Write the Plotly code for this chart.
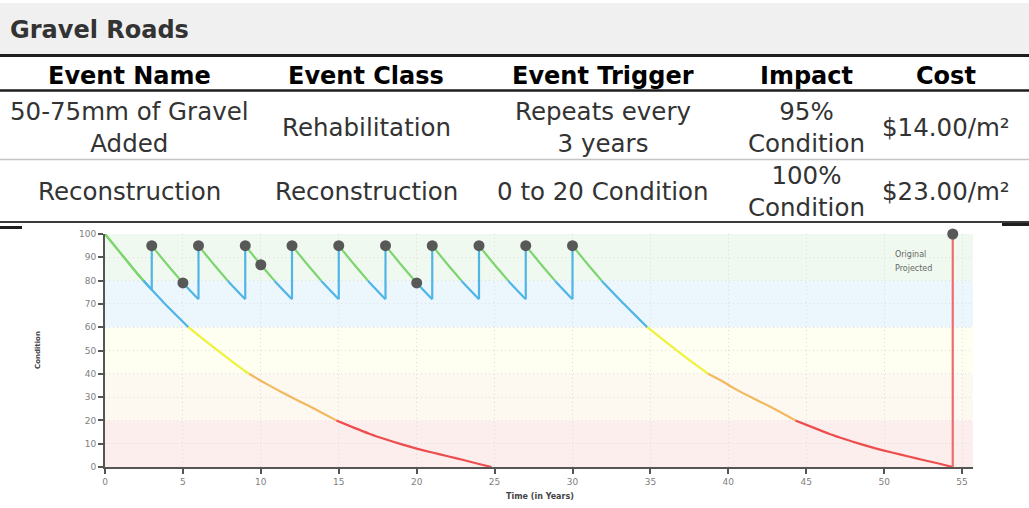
import plotly.graph_objects as go

W, H = 1029, 508

# ---------------------------------------------------------------- table data
section_title = "Gravel Roads"
col_headers = ["Event Name", "Event Class", "Event Trigger", "Impact", "Cost"]
col_centers = [129, 366, 603, 806, 946]
event_names = ["50-75mm of Gravel<br>Added", "Reconstruction"]
event_classes = ["Rehabilitation", "Reconstruction"]
event_triggers = ["Repeats every<br>3 years", "0 to 20 Condition"]
event_impacts = ["95%<br>Condition", "100%<br>Condition"]
event_costs = ["$14.00/m²", "$23.00/m²"]
row_centers = [127, 191]

# ---------------------------------------------------------------- chart data
# condition without any treatment
orig_years = [0, 1, 2, 2.46, 3, 4, 5, 5.35, 6, 7, 8, 9, 9.25, 10, 11, 12, 13, 14, 14.85,
              16, 17, 18, 19, 20, 21, 22, 23, 24, 24.8]
orig_cond = [100, 91.8, 83.6, 80, 76.1, 69.0, 62.3, 60, 56.5, 51.2, 46.1, 41.1, 40, 37.0, 33.3, 29.8,
             26.5, 23.0, 20, 16.8, 14.2, 11.9, 9.8, 7.9, 6.2, 4.6, 3.0, 1.3, 0]

# condition with gravel added every 3 years, then reconstruction
proj_years = [0, 1, 2, 2.46, 3,
              3, 4, 4.87, 5, 6,
              6, 7, 7.87, 8, 9,
              9, 10, 10.87, 11, 12,
              12, 13, 13.87, 14, 15,
              15, 16, 16.87, 17, 18,
              18, 19, 19.87, 20, 21,
              21, 22, 22.87, 23, 24,
              24, 25, 25.87, 26, 27,
              27, 28, 28.87, 29, 30,
              30, 31, 31.87, 32, 33, 34, 34.8, 35.5, 36.5, 37.5, 38.5, 38.7, 39.5, 40.5, 41.5,
              42.5, 43.5, 44.3, 45.5, 46.5, 47.5, 48.5, 49.5, 50.5, 51.5, 52.5, 53.5, 54.4,
              54.4]
proj_cond = [100, 91.8, 83.6, 80, 76.1,
             95, 86.8, 80, 79, 72,
             95, 86.8, 80, 79, 72,
             95, 86.8, 80, 79, 72,
             95, 86.8, 80, 79, 72,
             95, 86.8, 80, 79, 72,
             95, 86.8, 80, 79, 72,
             95, 86.8, 80, 79, 72,
             95, 86.8, 80, 79, 72,
             95, 86.8, 80, 79, 72,
             95, 86.8, 80, 79, 72, 65.3, 60, 56.3, 51.0, 45.9, 41.0, 40, 37.2, 33.3, 29.8,
             26.5, 23.0, 20, 16.8, 14.2, 11.9, 9.8, 7.9, 6.2, 4.6, 3.0, 1.5, 0,
             100]

event_years = [3, 6, 9, 12, 15, 18, 21, 24, 27, 30, 54.4]
event_cond = [95, 95, 95, 95, 95, 95, 95, 95, 95, 95, 100]
check_years = [5, 10, 20]
check_cond = [79, 86.8, 79]

band_edges = [0, 20, 40, 60, 80, 100]
band_fills = ["#fdeeee", "#fdf8f0", "#fefef1", "#ecf6fd", "#f0f9ef"]
band_lines = ["#ee4d4d", "#f4b860", "#eef23a", "#4fb4e6", "#7dd56f"]
recon_line = "#f06c6c"
x_max = 55.7


def band_of(c):
    for i in range(len(band_edges) - 1):
        if c < band_edges[i + 1]:
            return i
    return len(band_edges) - 2


def colored_runs(xs, ys):
    """Split a polyline into runs that share a condition band."""
    runs = []
    cur = None
    for i in range(len(xs) - 1):
        x0, y0, x1, y1 = xs[i], ys[i], xs[i + 1], ys[i + 1]
        b = band_of(min(y0, y1))
        if x0 == x1:
            runs.append(([x0, x1], [y0, y1], b, True))
            cur = None
            continue
        if cur is not None and cur[2] == b:
            cur[0].append(x1)
            cur[1].append(y1)
        else:
            cur = ([x0, x1], [y0, y1], b, False)
            runs.append(cur)
    return runs


fig = go.Figure()

px_x = lambda p: p / W
px_y = lambda p: 1 - p / H

for xs, ys in [(orig_years, orig_cond), (proj_years, proj_cond)]:
    for rx, ry, b, vertical in colored_runs(xs, ys):
        color = band_lines[b]
        if vertical and b == 0:
            color = recon_line
        fig.add_trace(go.Scatter(
            x=rx, y=ry, mode="lines",
            line=dict(color=color, width=2.2,
                      shape="linear" if vertical else "spline", smoothing=0.5),
            hoverinfo="skip", showlegend=False, cliponaxis=False))

fig.add_trace(go.Scatter(
    x=event_years + check_years, y=event_cond + check_cond, mode="markers",
    marker=dict(color="#585858", size=11, line=dict(width=0)),
    hoverinfo="skip", showlegend=False, cliponaxis=False))

shapes = []
# condition bands
for i in range(len(band_fills)):
    shapes.append(dict(type="rect", xref="x domain", yref="y",
                       x0=0, x1=1, y0=band_edges[i], y1=band_edges[i + 1],
                       fillcolor=band_fills[i], line=dict(width=0), layer="below"))

# header bar and table rules
shapes.append(dict(type="rect", xref="paper", yref="paper", x0=0, x1=1,
                   y0=px_y(55), y1=px_y(3), fillcolor="#f0f0f0", line=dict(width=0)))


def hline(y, w, color, x0=0, x1=W):
    shapes.append(dict(type="line", xref="paper", yref="paper",
                       x0=px_x(x0), x1=px_x(x1), y0=px_y(y), y1=px_y(y),
                       line=dict(color=color, width=w)))


hline(55.5, 3, "#1e1e1e")
hline(90.5, 2.5, "#1e1e1e")
hline(159.5, 1.5, "#c4c4c4")
hline(222, 2, "#3a3a3a")
hline(227.5, 3, "#1e1e1e", 0, 22)
hline(224.5, 3, "#1e1e1e", 1002, W)

annotations = []
annotations.append(dict(xref="paper", yref="paper", x=px_x(8), y=px_y(30),
                        xanchor="left", yanchor="middle", showarrow=False,
                        text="<b>" + section_title + "</b>",
                        font=dict(family="DejaVu Sans", size=24, color="#333333")))
for cx, h in zip(col_centers, col_headers):
    annotations.append(dict(xref="paper", yref="paper", x=px_x(cx), y=px_y(76),
                            xanchor="center", yanchor="middle", showarrow=False,
                            text="<b>" + h + "</b>",
                            font=dict(family="DejaVu Sans", size=24, color="#000000")))
for r, cy in enumerate(row_centers):
    cells = [event_names[r], event_classes[r], event_triggers[r], event_impacts[r], event_costs[r]]
    for cx, t in zip(col_centers, cells):
        annotations.append(dict(xref="paper", yref="paper", x=px_x(cx), y=px_y(cy),
                                xanchor="center", yanchor="middle", showarrow=False,
                                text=t, align="center",
                                font=dict(family="DejaVu Sans", size=24.5, color="#333333")))

# legend labels
annotations.append(dict(xref="paper", yref="paper", x=px_x(893), y=px_y(254),
                        xanchor="left", yanchor="middle", showarrow=False, text="Original",
                        font=dict(family="DejaVu Sans", size=8, color="#666666")))
annotations.append(dict(xref="paper", yref="paper", x=px_x(893), y=px_y(268),
                        xanchor="left", yanchor="middle", showarrow=False, text="Projected",
                        font=dict(family="DejaVu Sans", size=8, color="#666666")))
# axis titles
annotations.append(dict(xref="paper", yref="paper", x=px_x(540), y=px_y(496),
                        xanchor="center", yanchor="middle", showarrow=False,
                        text="<b>Time (in Years)</b>",
                        font=dict(family="DejaVu Sans", size=8, color="#444444")))
annotations.append(dict(xref="paper", yref="paper", x=px_x(38), y=px_y(350),
                        xanchor="center", yanchor="middle", showarrow=False,
                        text="<b>Condition</b>", textangle=-90,
                        font=dict(family="DejaVu Sans", size=7, color="#444444")))

axis_common = dict(
    automargin=False, showgrid=True, gridcolor="#dddddd", griddash="1px,3px", gridwidth=1,
    zeroline=False, showline=True, linecolor="#555555", linewidth=2,
    ticks="outside", ticklen=5, tickcolor="#555555", tickwidth=1.5,
    tickfont=dict(family="DejaVu Sans", size=9, color="#808080"),
    fixedrange=True,
)

fig.update_layout(
    width=W, height=H,
    margin=dict(l=0, r=0, t=0, b=0),
    paper_bgcolor="white", plot_bgcolor="white",
    shapes=shapes, annotations=annotations,
    xaxis=dict(domain=[105 / W, 973 / W], range=[0, x_max],
               tickvals=[0, 5, 10, 15, 20, 25, 30, 35, 40, 45, 50, 55], **axis_common),
    yaxis=dict(domain=[1 - 467 / H, 1 - 234 / H], range=[0, 100],
               tickvals=[0, 10, 20, 30, 40, 50, 60, 70, 80, 90, 100], **axis_common),
)

fig.write_html("out.html", config={"displayModeBar": False})
